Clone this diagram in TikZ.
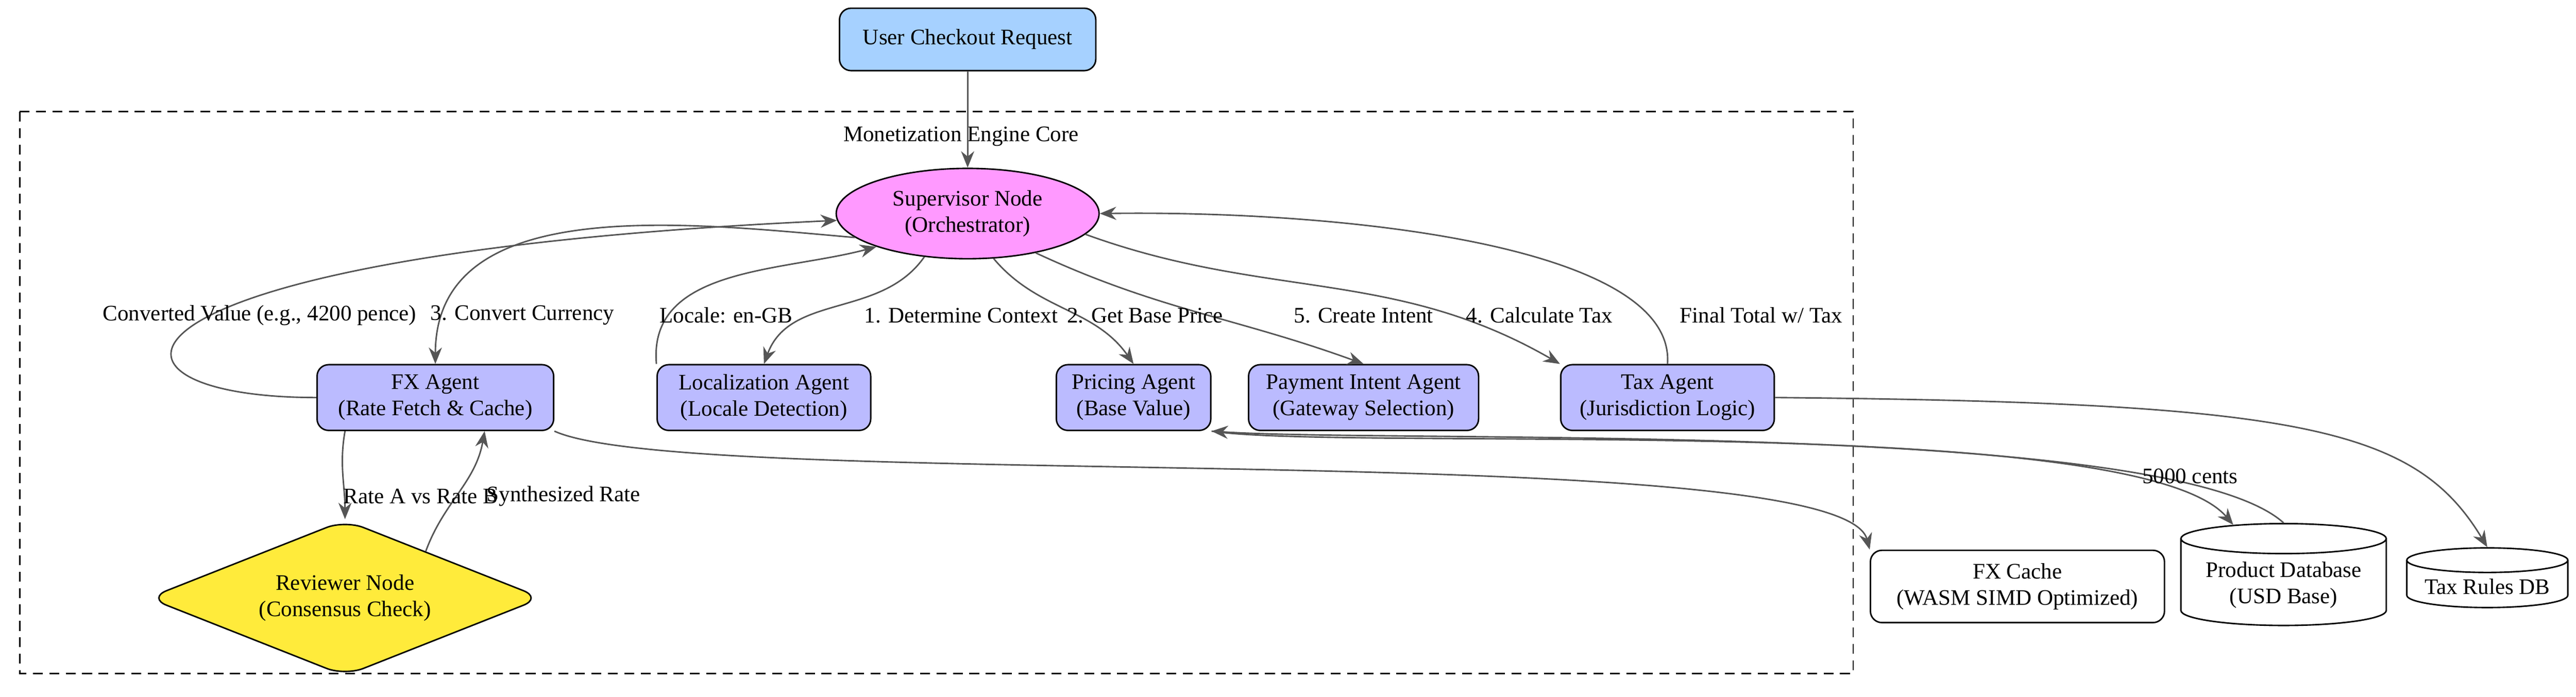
\documentclass[tikz,border=0pt]{standalone}
\usepackage{fontspec}
\setmainfont{Liberation Serif}
\usetikzlibrary{shapes.geometric, arrows.meta, positioning}
\definecolor{edgegray}{HTML}{555555}
\definecolor{userblue}{HTML}{A6D1FF}
\definecolor{supviolet}{HTML}{FF99FF}
\definecolor{agentblue}{HTML}{BBBBFF}
\definecolor{revyellow}{HTML}{FFEB3B}
\tikzset{
  box/.style={draw, rounded corners=7pt, line width=0.9pt, align=center, minimum height=40pt},
  agent/.style={box, fill=agentblue},
  dbase/.style={draw, cylinder, shape border rotate=90, aspect=0.18, line width=0.9pt, align=center},
  flow/.style={draw=edgegray, line width=0.9pt, -{Stealth[length=10pt,width=8pt]}},
  lbl/.style={font=\fontsize{13.5}{16}\selectfont}
}
\begin{document}
\begin{tikzpicture}[x=1pt, y=-1pt, font=\fontsize{13.5}{16}\selectfont]
\useasboundingbox (0,0) rectangle (1568,424);

% cluster
\draw[dashed, line width=0.9pt, dash pattern=on 6pt off 4pt] (12,68) rectangle (1128,410);
\node (core) at (585,83) {Monetization Engine Core};

% nodes
\node[box, fill=userblue, minimum width=156pt, minimum height=38pt] (user) at (589,24) {User Checkout Request};
\node[draw, ellipse, fill=supviolet, line width=0.9pt, minimum width=160pt, minimum height=55pt, inner sep=1pt, align=center] (sup) at (589,130) {Supervisor Node\\(Orchestrator)};
\node[agent, minimum width=144pt] (fx) at (265,242) {FX Agent\\(Rate Fetch \& Cache)};
\node[agent, minimum width=130pt] (loc) at (465,242) {Localization Agent\\(Locale Detection)};
\node[agent, minimum width=94pt] (price) at (690,242) {Pricing Agent\\(Base Value)};
\node[agent, minimum width=140pt] (pay) at (830,242) {Payment Intent Agent\\(Gateway Selection)};
\node[agent, minimum width=130pt] (tax) at (1015,242) {Tax Agent\\(Jurisdiction Logic)};
\node[draw, diamond, rounded corners=12pt, fill=revyellow, line width=0.9pt, minimum width=240pt, minimum height=95pt, aspect=2.5, inner sep=0pt, align=center] (rev) at (210,364) {Reviewer Node\\(Consensus Check)};
\node[box, minimum width=179pt, minimum height=44pt] (cache) at (1228,357) {FX Cache\\(WASM SIMD Optimized)};
\node[dbase, minimum width=125pt, minimum height=62pt] (prod) at (1390,356) {Product Database\\(USD Base)};
\node[dbase, minimum width=98pt, minimum height=36pt] (rules) at (1514,357) {Tax Rules DB};

% edges
\draw[flow] (user) -- (sup);
\draw[flow] (sup.225) to[out=235, in=70] (loc.north);
\draw[flow] (sup.300) to[out=-50, in=125] (price.north);
\draw[flow] (sup.330) to[out=-25, in=160] (pay.north);
\draw[flow] (sup.192) to[out=175, in=90] (fx.north);
\draw[flow] (sup.350) to[out=-20, in=150] (tax.north west);
\draw[flow] (fx.west) .. controls (40,242) and (50,155) .. (sup.183);
\draw[flow] (loc.north west) to[out=95, in=195] (sup.200);
\draw[flow] (tax.north) .. controls (1020,150) and (820,128) .. (sup.east);
\draw[flow] ([xshift=-55pt]fx.south) to[out=-100, in=90] (rev.north);
\draw[flow] (rev.30) to[out=70, in=-100] ([xshift=30pt]fx.south);
\draw[flow] (fx.south east) .. controls (420,300) and (1120,265) .. (cache.north west);
\draw[flow] (price.south east) .. controls (820,275) and (1300,250) .. (prod.130);
\draw[flow] (prod.north) .. controls (1320,255) and (850,270) .. (price.south east);
\draw[flow] (tax.east) .. controls (1400,245) and (1470,260) .. (rules.north);

% labels
\node[lbl] (l1) at (585,192) {1. Determine Context};
\node[lbl] (l2) at (697,192) {2. Get Base Price};
\node[lbl] (l3) at (318,192) {3. Convert Currency};
\node[lbl] (l4) at (937,192) {4. Calculate Tax};
\node[lbl] (l5) at (830,192) {5. Create Intent};
\node[lbl] (lconv) at (158,192) {Converted Value (e.g., 4200 pence)};
\node[lbl] (lloc) at (442,192) {Locale: en-GB};
\node[lbl] (ltax) at (1072,192) {Final Total w/ Tax};
\node[lbl] (lrate) at (256,302) {Rate A vs Rate B};
\node[lbl] (lsyn) at (343,302) {Synthesized Rate};
\node[lbl] (lcents) at (1333,290) {5000 cents};
\end{tikzpicture}
\end{document}
